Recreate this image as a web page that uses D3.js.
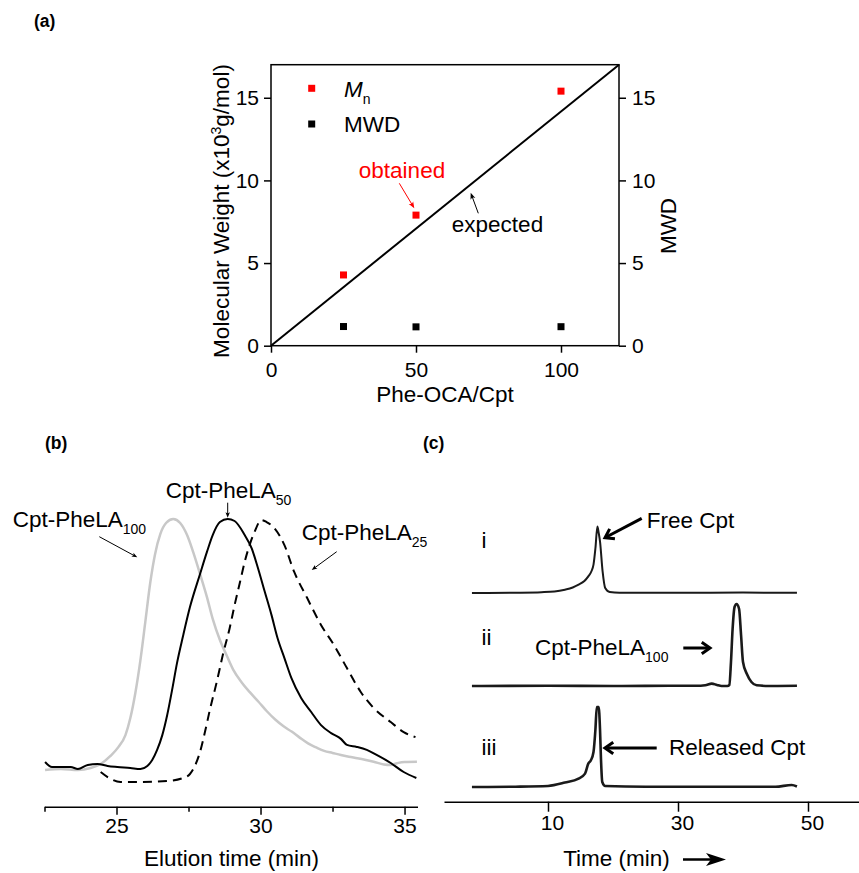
<!DOCTYPE html>
<html><head><meta charset="utf-8">
<script src="https://cdn.jsdelivr.net/npm/d3@7"></script>
<style>
body{margin:0;background:#fff}
svg{display:block}
text{font-family:"Liberation Sans",Arial,Helvetica,sans-serif}
</style>
</head><body>
<svg id="chart" width="859" height="873"></svg>
<script>
// ================= DATA =================
// Panel (a)
const ratioTicks = [0, 50, 100];
const mwTicks = [0, 5, 10, 15];
const mnPoints = [[25, 4.28], [50, 7.9], [100, 15.4]];
const mwdPoints = [[25, 1.16], [50, 1.14], [100, 1.15]];
const expectedLine = [[0, 0], [120, 17]];

// Panel (b) GPC traces: [elution time (min), normalized signal]
const elutionTicks = [25, 30, 35];
const elutionMinorTicks = [22.5, 27.5, 32.5];
const gpc100 = [[22.52,0],[23.07,0.4],[23.66,0],[24.10,0.8],[24.45,2.4],[24.79,5.6],[25.07,9.2],[25.31,13.9],
  [25.48,20.7],[25.66,31.1],[25.83,43.8],[26.00,59.0],[26.17,74.5],[26.34,86.1],[26.52,94.0],[26.72,98.4],
  [26.97,100],[27.21,98.4],[27.45,93.6],[27.66,86.9],[27.90,78.1],[28.14,68.9],[28.34,60.2],[28.59,51.8],
  [28.83,45.5],[29.05,40.0],[29.34,35.0],[29.62,31.1],[29.93,27.2],[30.22,23.4],[30.52,20.0],[30.80,17.4],
  [31.08,15.3],[31.36,12.9],[31.65,10.6],[31.93,9.0],[32.21,7.6],[32.50,6.8],[32.79,6.0],[33.07,5.3],
  [33.36,4.7],[33.66,4.0],[33.93,3.3],[34.28,2.2],[34.52,2.0],[34.74,2.7],[35.00,3.2],[35.43,3.3]];
const gpc50 = [[22.52,3.2],[22.76,1.2],[23.07,1.2],[23.41,1.2],[23.66,0.4],[24.00,2.0],[24.34,2.4],[24.69,1.6],
  [25.03,1.2],[25.48,0.8],[25.83,0.4],[26.07,1.6],[26.24,4.0],[26.41,8.0],[26.59,13.9],[26.76,21.9],
  [26.93,31.9],[27.10,42.6],[27.31,53.4],[27.55,64.9],[27.90,78.1],[28.14,86.9],[28.34,93.6],[28.59,98.8],
  [28.86,100],[29.10,99.2],[29.45,93.6],[29.69,88.4],[29.90,80.9],[30.14,71.3],[30.38,61.8],[30.59,52.6],
  [30.83,44.6],[31.07,36.7],[31.41,28.7],[31.76,23.1],[32.10,17.9],[32.45,14.7],[32.79,12.4],[33.00,10.0],
  [33.34,9.2],[33.69,8.0],[34.03,6.0],[34.52,2.8],[34.97,-0.8],[35.41,-3.2]];
const gpc25 = [[24.45,-0.8],[24.69,-2.8],[25.14,-4.8],[25.83,-4.8],[26.76,-4.4],[27.31,-3.2],[27.55,-1.6],
  [27.72,1.6],[27.90,7.2],[28.07,15.1],[28.24,23.9],[28.48,35.1],[28.69,45.8],[28.93,56.6],[29.10,65.7],
  [29.28,74.5],[29.45,82.9],[29.62,89.6],[29.79,94.8],[30.03,99.6],[30.21,98.8],[30.48,96.4],[30.83,89.6],
  [31.17,78.9],[31.62,68.5],[32.10,57.8],[32.55,49.8],[33.00,40.6],[33.48,31.1],[33.93,24.7],[34.52,19.1],
  [34.97,15.1],[35.38,13.1]];

// Panel (c) HPLC traces: [time (min), signal above baseline]
const hplcTicks = [10, 30, 50];
const traceFree = [[-1.7,0],[5,0.3],[9,0.8],[11,1.5],[12.6,3.3],[13.8,5.5],[14.7,8.3],[15.6,12],[16.2,16.6],
  [16.7,22],[17.0,28.3],[17.3,45],[17.6,66.6],[17.8,60],[18.0,51.6],[18.4,21.6],[18.8,5],[19.5,1],[21,0.3],
  [30,0.2],[40,0.4],[48.3,0.2]];
const traceConj = [[-1.7,0],[10,0.2],[20,0],[30,0.3],[33.5,0.3],[34.2,0.7],[35.2,2.4],[36,1],[36.7,0],[37.6,0],
  [37.9,1],[38.15,24],[38.4,57],[38.7,79],[39.0,82],[39.4,77],[39.7,51],[40.0,24],[40.6,12],[41.3,4],
  [42.1,0.7],[44,0],[48.3,0.2]];
const traceReleased = [[-1.7,0],[5,0.3],[10,1],[12.6,4.4],[14.7,8.4],[15.7,13.4],[16.2,23.4],[16.6,26.7],
  [17.0,35],[17.3,58],[17.5,80],[17.8,80],[18.0,58],[18.15,28],[18.35,5],[18.8,1],[25,0.3],[35,0.3],
  [45,0.2],[47.5,2],[48.3,0.5]];
const traceLabels = ["i", "ii", "iii"];

// ================= DRAWING =================
const svg = d3.select("#chart");
const TICK_FS = 21, LABEL_FS = 22.5, SUB_FS = 14, PANEL_FS = 17.5;

function styleAxis(g, fs) {
  g.selectAll(".tick line").attr("stroke", "#000").attr("stroke-width", 1.5);
  g.selectAll(".tick text").attr("font-size", fs).attr("fill", "#000")
    .attr("font-family", '"Liberation Sans",Arial,sans-serif');
  return g;
}
function arrowThin(g, x1, y1, x2, y2, color, head) {
  const a = Math.atan2(y2 - y1, x2 - x1), L = head || 7, w = 0.38;
  g.append("line").attr("x1", x1).attr("y1", y1)
    .attr("x2", x2 - Math.cos(a) * L * 0.6).attr("y2", y2 - Math.sin(a) * L * 0.6)
    .attr("stroke", color).attr("stroke-width", 1);
  const p = [[x2, y2],
    [x2 - L * Math.cos(a - w), y2 - L * Math.sin(a - w)],
    [x2 - L * 0.7 * Math.cos(a), y2 - L * 0.7 * Math.sin(a)],
    [x2 - L * Math.cos(a + w), y2 - L * Math.sin(a + w)]];
  g.append("path").attr("d", "M" + p.join("L") + "Z").attr("fill", color);
}
function arrowBold(g, x1, y1, x2, y2) {
  const a = Math.atan2(y2 - y1, x2 - x1), L = 10, w = 0.6;
  g.append("line").attr("x1", x1).attr("y1", y1).attr("x2", x2 - Math.cos(a) * 2).attr("y2", y2 - Math.sin(a) * 2)
    .attr("stroke", "#000").attr("stroke-width", 3);
  g.append("path").attr("d",
      `M${x2 - L * Math.cos(a - w)},${y2 - L * Math.sin(a - w)}L${x2},${y2}L${x2 - L * Math.cos(a + w)},${y2 - L * Math.sin(a + w)}`)
    .attr("fill", "none").attr("stroke", "#000").attr("stroke-width", 3).attr("stroke-linejoin", "miter");
}
function subText(g, x, y, main, sub, opts) {
  const t = g.append("text").attr("x", x).attr("y", y).attr("font-size", LABEL_FS).attr("fill", (opts && opts.fill) || "#000");
  t.append("tspan").text(main);
  t.append("tspan").attr("font-size", SUB_FS).attr("dy", 7).text(sub);
  return t;
}

// ---------- Panel (a) ----------
const xa = d3.scaleLinear().domain([0, 120]).range([271, 619]);
const ya = d3.scaleLinear().domain([0, 17]).range([345.7, 64.7]);
const ga = svg.append("g");

ga.append("text").attr("x", 34).attr("y", 27).attr("font-size", PANEL_FS).attr("font-weight", "bold").text("(a)");

styleAxis(ga.append("g").attr("transform", `translate(0,${ya(0)})`)
  .call(d3.axisBottom(xa).tickValues(ratioTicks).tickSize(7).tickPadding(9).tickSizeOuter(0)), TICK_FS)
  .select(".domain").remove();
styleAxis(ga.append("g").attr("transform", `translate(${xa(0)},0)`)
  .call(d3.axisLeft(ya).tickValues(mwTicks).tickSize(7).tickPadding(5).tickSizeOuter(0)), TICK_FS)
  .select(".domain").remove();
styleAxis(ga.append("g").attr("transform", `translate(${xa(120)},0)`)
  .call(d3.axisRight(ya).tickValues(mwTicks).tickSize(7).tickPadding(6).tickSizeOuter(0)), TICK_FS)
  .select(".domain").remove();

ga.append("rect").attr("x", xa(0)).attr("y", ya(17))
  .attr("width", xa(120) - xa(0)).attr("height", ya(0) - ya(17))
  .attr("fill", "none").attr("stroke", "#000").attr("stroke-width", 1.5);

ga.append("path").datum(expectedLine)
  .attr("d", d3.line().x(d => xa(d[0])).y(d => ya(d[1])))
  .attr("fill", "none").attr("stroke", "#000").attr("stroke-width", 2);

const SQ = 7;
ga.selectAll(".mn").data(mnPoints).join("rect").attr("class", "mn")
  .attr("x", d => xa(d[0]) - SQ / 2).attr("y", d => ya(d[1]) - SQ / 2)
  .attr("width", SQ).attr("height", SQ).attr("fill", "#ff0000");
ga.selectAll(".mwd").data(mwdPoints).join("rect").attr("class", "mwd")
  .attr("x", d => xa(d[0]) - SQ / 2).attr("y", d => ya(d[1]) - SQ / 2)
  .attr("width", SQ).attr("height", SQ).attr("fill", "#000");

// legend
ga.append("rect").attr("x", 311.7 - SQ / 2).attr("y", 88.3 - SQ / 2).attr("width", SQ).attr("height", SQ).attr("fill", "#ff0000");
ga.append("rect").attr("x", 311.7 - SQ / 2).attr("y", 124 - SQ / 2).attr("width", SQ).attr("height", SQ).attr("fill", "#000");
const lm = ga.append("text").attr("x", 344).attr("y", 97).attr("font-size", LABEL_FS);
lm.append("tspan").attr("font-style", "italic").text("M");
lm.append("tspan").attr("font-size", SUB_FS).attr("dy", 7).text("n");
ga.append("text").attr("x", 344).attr("y", 132).attr("font-size", LABEL_FS).text("MWD");

// annotations
ga.append("text").attr("x", 402).attr("y", 178).attr("text-anchor", "middle").attr("font-size", LABEL_FS)
  .attr("fill", "#ff0000").text("obtained");
arrowThin(ga, 399.3, 183.3, 414.3, 208.3, "#ff0000", 7);
ga.append("text").attr("x", 497.5).attr("y", 232).attr("text-anchor", "middle").attr("font-size", LABEL_FS).text("expected");
arrowThin(ga, 478.3, 213.3, 470.7, 192.7, "#000", 7);

// axis titles
ga.append("text").attr("x", xa(60)).attr("y", 402).attr("text-anchor", "middle").attr("font-size", LABEL_FS).text("Phe-OCA/Cpt");
const yt = ga.append("text").attr("transform", "translate(229,211) rotate(-90)")
  .attr("text-anchor", "middle").attr("font-size", LABEL_FS);
yt.append("tspan").text("Molecular Weight (x10");
yt.append("tspan").attr("font-size", SUB_FS).attr("dy", -8).text("3");
yt.append("tspan").attr("dy", 8).text("g/mol)");
ga.append("text").attr("transform", "translate(676,226) rotate(-90)")
  .attr("text-anchor", "middle").attr("font-size", LABEL_FS).text("MWD");

// ---------- Panel (b) ----------
const xb = d3.scaleLinear().domain([22.5, 35.45]).range([44.5, 417.5]);
const yb = d3.scaleLinear().domain([0, 100]).range([770, 519]);
const gb = svg.append("g");
gb.append("text").attr("x", 45).attr("y", 449).attr("font-size", PANEL_FS).attr("font-weight", "bold").text("(b)");

const axB = gb.append("g").attr("transform", "translate(0,806.7)")
  .call(d3.axisBottom(xb).tickValues(elutionTicks).tickSize(8).tickPadding(3).tickSizeOuter(0));
styleAxis(axB, TICK_FS);
axB.select(".domain").attr("stroke", "#000").attr("stroke-width", 1.5);
const axBm = gb.append("g").attr("transform", "translate(0,806.7)")
  .call(d3.axisBottom(xb).tickValues(elutionMinorTicks).tickSize(5).tickFormat("").tickSizeOuter(0));
axBm.select(".domain").remove();
axBm.selectAll(".tick line").attr("stroke", "#000").attr("stroke-width", 1.5);
gb.append("text").attr("x", 231.5).attr("y", 866).attr("text-anchor", "middle").attr("font-size", LABEL_FS)
  .text("Elution time (min)");

const lineB = d3.line().x(d => xb(d[0])).y(d => yb(d[1])).curve(d3.curveMonotoneX);
gb.append("path").datum(gpc100).attr("d", lineB).attr("fill", "none").attr("stroke", "#c8c8c8").attr("stroke-width", 2.5);
gb.append("path").datum(gpc50).attr("d", lineB).attr("fill", "none").attr("stroke", "#000").attr("stroke-width", 2);
gb.append("path").datum(gpc25).attr("d", lineB).attr("fill", "none").attr("stroke", "#000").attr("stroke-width", 2)
  .attr("stroke-dasharray", "9,6");

subText(gb, 12.7, 527.3, "Cpt-PheLA", "100");
arrowThin(gb, 99.3, 536.7, 137.3, 557.3, "#000", 6);
subText(gb, 165.7, 498.3, "Cpt-PheLA", "50");
arrowThin(gb, 227.7, 502.7, 227.7, 517.7, "#000", 6);
subText(gb, 301.7, 540, "Cpt-PheLA", "25");
arrowThin(gb, 336.7, 551.7, 311.7, 570, "#000", 6);

// ---------- Panel (c) ----------
const xc = d3.scaleLinear().domain([-6, 58]).range([444, 860]);
const yc = d3.scaleLinear().domain([0, 100]).range([0, -100]);
const gc = svg.append("g");
gc.append("text").attr("x", 423).attr("y", 449).attr("font-size", PANEL_FS).attr("font-weight", "bold").text("(c)");

const axC = gc.append("g").attr("transform", "translate(0,801.7)")
  .call(d3.axisBottom(xc).tickValues(hplcTicks).tickSize(10).tickPadding(3).tickSizeOuter(0));
styleAxis(axC, TICK_FS);
axC.selectAll(".tick text").attr("dx", 4);
axC.select(".domain").attr("stroke", "#000").attr("stroke-width", 1.5);

gc.append("text").attr("x", 616.5).attr("y", 866).attr("text-anchor", "middle").attr("font-size", LABEL_FS).text("Time (min)");
// filled arrow after "Time (min)"
gc.append("line").attr("x1", 683).attr("y1", 859.5).attr("x2", 714).attr("y2", 859.5).attr("stroke", "#000").attr("stroke-width", 2.5);
gc.append("path").attr("d", "M726,859.5L706,853L711,859.5L706,866Z").attr("fill", "#000");

const lineC = d3.line().x(d => xc(d[0])).y(d => yc(d[1])).curve(d3.curveMonotoneX);
const traces = [traceFree, traceConj, traceReleased];
const baselines = [593, 686, 787];
const widths = [2, 2.6, 2.6];
traces.forEach((tr, i) => {
  const g = gc.append("g").attr("transform", `translate(0,${baselines[i]})`);
  g.append("path").datum(tr).attr("d", lineC).attr("fill", "none").attr("stroke", "#1a1a1a")
    .attr("stroke-width", widths[i]).attr("stroke-linejoin", "round");
});
const labelY = [548, 645, 755];
traceLabels.forEach((t, i) => {
  gc.append("text").attr("x", 481.5).attr("y", labelY[i]).attr("font-size", LABEL_FS).text(t);
});

gc.append("text").attr("x", 646.7).attr("y", 528).attr("font-size", LABEL_FS).text("Free Cpt");
arrowBold(gc, 641.7, 518.3, 605, 537.7);
subText(gc, 535, 655, "Cpt-PheLA", "100");
arrowBold(gc, 683.3, 648, 710, 648);
gc.append("text").attr("x", 669).attr("y", 755).attr("font-size", LABEL_FS).text("Released Cpt");
arrowBold(gc, 656.7, 748, 605, 748);
</script>
</body></html>
